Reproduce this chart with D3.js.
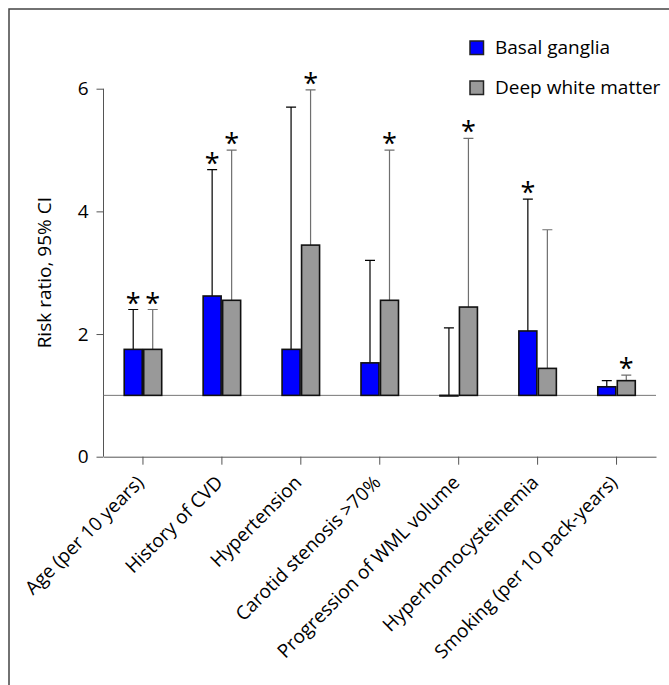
<!DOCTYPE html>
<html>
<head>
<meta charset="utf-8">
<script src="https://cdnjs.cloudflare.com/ajax/libs/d3/7.8.5/d3.min.js"></script>
<style>
  html, body { margin: 0; padding: 0; background: #fff; }
  svg { display: block; }
  text { font-family: "Open Sans", "Noto Sans", sans-serif; fill: #000; }
</style>
</head>
<body>
<div id="chart"></div>
<script>
// risk ratios per factor, basal ganglia vs deep white matter
var categories = [
  'Age (per 10 years)',
  'History of CVD',
  'Hypertension',
  'Carotid stenosis >70%',
  'Progression of WML volume',
  'Hyperhomocysteinemia',
  'Smoking (per 10 pack-years)'
]
var seriesNames = ['Basal ganglia', 'Deep white matter']
var basalRR = [1.75, 2.62, 1.75, 1.53, 0.99, 2.05, 1.14]
var basalUpper = [2.4, 4.68, 5.7, 3.2, 2.1, 4.2, 1.24]
var basalSig = [true, true, false, false, false, true, false]
var deepRR = [1.75, 2.55, 3.45, 2.55, 2.44, 1.44, 1.24]
var deepUpper = [2.4, 5.0, 5.98, 5.0, 5.19, 3.7, 1.33]
var deepSig = [true, true, true, true, true, false, true]
var yTicks = [0, 2, 4, 6]

;(function() {
  var
    WIDTH = 669,
    HEIGHT = 685,
    LEFT = 103.5,
    RIGHT = 656,
    TOP_Y = 88.7,
    BOTTOM_Y = 456.7,
    BAR_W = 18,
    BAR_GAP = 1.5,
    FONT = 19,
    COLORS = ['#0000ff', '#999999'],
    ERR_COLORS = ['#000', '#6f6f6f']

  var svg = d3.select('#chart').append('svg')
    .attr('width', WIDTH)
    .attr('height', HEIGHT)

  // outer frame, cut off at right and bottom like the source figure
  svg.append('rect')
    .attr('x', 9).attr('y', 9)
    .attr('width', WIDTH + 20).attr('height', HEIGHT + 20)
    .attr('fill', 'none')
    .attr('stroke', '#444')
    .attr('stroke-width', 1.5)

  var x = d3.scaleBand().domain(categories).range([LEFT, RIGHT]).padding(0)
  var y = d3.scaleLinear().domain([0, 6]).range([BOTTOM_Y, TOP_Y])

  var rows = categories.map(function(c, i) {
    return [
      { cat: c, s: 0, v: basalRR[i], up: basalUpper[i], sig: basalSig[i] },
      { cat: c, s: 1, v: deepRR[i], up: deepUpper[i], sig: deepSig[i] }
    ]
  })
  var flat = d3.merge(rows)

  function barX(d) {
    var c = x(d.cat) + x.bandwidth() / 2
    return d.s === 0 ? c - BAR_GAP / 2 - BAR_W : c + BAR_GAP / 2
  }
  function barMid(d) { return barX(d) + BAR_W / 2 }

  // axes
  var yAxis = d3.axisLeft(y).tickValues(yTicks).tickFormat(d3.format('d')).tickSize(7).tickPadding(8)
  var yG = svg.append('g')
    .attr('transform', 'translate(' + LEFT + ',0)')
    .call(yAxis)
  yG.select('.domain').attr('stroke', '#555').attr('d', 'M0,' + TOP_Y + 'V' + BOTTOM_Y)
  yG.selectAll('.tick line').attr('stroke', '#555')
  yG.selectAll('.tick text')
    .attr('font-size', FONT)
    .attr('font-family', '"Open Sans", sans-serif')
    .attr('fill', '#000')

  var xAxis = d3.axisBottom(x).tickSize(8).tickSizeOuter(0).tickFormat('')
  var xG = svg.append('g')
    .attr('transform', 'translate(0,' + BOTTOM_Y + ')')
    .call(xAxis)
  xG.select('.domain').attr('stroke', '#555')
  xG.selectAll('.tick line').attr('stroke', '#555')

  svg.append('g').selectAll('text')
    .data(categories)
    .enter()
    .append('text')
    .text(function(d) { return d })
    .attr('font-size', FONT)
    .attr('text-anchor', 'end')
    .attr('transform', function(d) {
      return 'translate(' + (x(d) + x.bandwidth() / 2 + 2) + ' ' + (BOTTOM_Y + 27) + ') rotate(-45)'
    })

  // y label
  svg.append('text')
    .text('Risk ratio, 95% CI')
    .attr('font-size', FONT)
    .attr('text-anchor', 'middle')
    .attr('transform', 'translate(51 ' + ((TOP_Y + BOTTOM_Y) / 2) + ') rotate(-90)')

  // reference line at RR = 1
  svg.append('line')
    .attr('x1', LEFT).attr('x2', RIGHT)
    .attr('y1', y(1)).attr('y2', y(1))
    .attr('stroke', '#777')
    .attr('stroke-width', 1)

  // error whiskers
  svg.append('g').selectAll('.err')
    .data(flat)
    .enter()
    .append('path')
    .attr('class', 'err')
    .attr('fill', 'none')
    .attr('stroke', function(d) { return ERR_COLORS[d.s] })
    .attr('stroke-width', 1.2)
    .attr('d', function(d) {
      var m = barMid(d)
      return 'M' + m + ' ' + y(d.v) + 'V' + y(d.up) + 'M' + (m - 5) + ' ' + y(d.up) + 'H' + (m + 5)
    })

  // bars
  svg.append('g').selectAll('.bar')
    .data(flat)
    .enter()
    .append('rect')
    .attr('class', 'bar')
    .attr('x', barX)
    .attr('width', BAR_W)
    .attr('y', function(d) { return Math.min(y(d.v), y(1)) })
    .attr('height', function(d) { return Math.abs(y(1) - y(d.v)) })
    .attr('fill', function(d) { return COLORS[d.s] })
    .attr('stroke', '#111')
    .attr('stroke-width', 1.6)

  // significance stars
  svg.append('g').selectAll('.star')
    .data(flat.filter(function(d) { return d.sig }))
    .enter()
    .append('text')
    .attr('class', 'star')
    .text('*')
    .attr('font-family', '"DejaVu Sans", sans-serif')
    .attr('font-size', 27)
    .attr('text-anchor', 'middle')
    .attr('x', barMid)
    .attr('y', function(d) { return y(d.up) + 3 })

  // legend
  var leg = svg.append('g').selectAll('g')
    .data(seriesNames)
    .enter()
    .append('g')
    .attr('transform', function(d, i) { return 'translate(470 ' + (41 + i * 40) + ')' })
  leg.append('rect')
    .attr('width', 13.5).attr('height', 13.5)
    .attr('fill', function(d, i) { return COLORS[i] })
    .attr('stroke', '#222')
    .attr('stroke-width', 1.5)
  leg.append('text')
    .text(function(d) { return d })
    .attr('x', 25)
    .attr('y', 12.5)
    .attr('font-size', FONT)
})()
</script>
</body>
</html>
